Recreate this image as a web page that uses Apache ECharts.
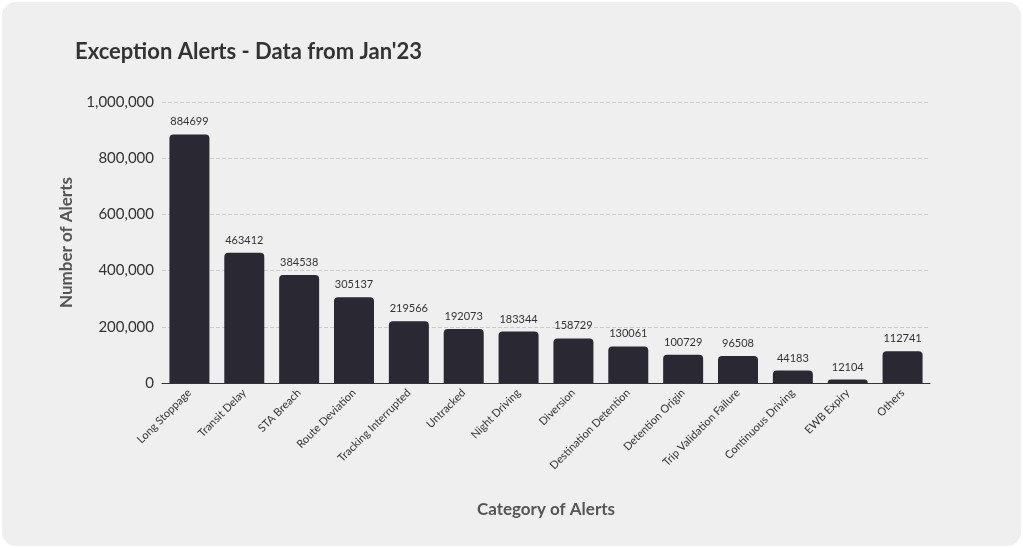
<!DOCTYPE html>
<html style="height: 100%">
<head>
<meta charset="utf-8">
<script src="https://cdn.jsdelivr.net/npm/echarts@6/dist/echarts.min.js"></script>
</head>
<body style="height: 100%; margin: 0; background: #fff;">
<div id="container" style="position:absolute;left:2px;top:2px;right:2px;bottom:2px;background:#efefef;border-radius:14px;"></div>
<script>
var categories = ['Long Stoppage', 'Transit Delay', 'STA Breach', 'Route Deviation', 'Tracking Interrupted', 'Untracked', 'Night Driving', 'Diversion', 'Destination Detention', 'Detention Origin', 'Trip Validation Failure', 'Continuous Driving', 'EWB Expiry', 'Others'];
var alertCounts = [884699, 463412, 384538, 305137, 219566, 192073, 183344, 158729, 130061, 100729, 96508, 44183, 12104, 112741];

var chart = echarts.init(document.getElementById('container'));
chart.setOption({
  textStyle: { fontFamily: 'Lato' },
  title: {
    text: "Exception Alerts - Data from Jan'23",
    left: 68, top: 34,
    textStyle: { fontSize: 22, fontWeight: 'bold', color: '#333', fontFamily: 'Lato' }
  },
  grid: { left: 160, right: 91, top: 100, bottom: 163 },
  xAxis: {
    type: 'category',
    data: categories,
    name: 'Category of Alerts',
    nameLocation: 'middle',
    nameGap: 118,
    nameTextStyle: { fontSize: 17, color: '#555', fontWeight: 'bold' },
    axisTick: { show: false },
    axisLine: { lineStyle: { color: '#333' } },
    axisLabel: { rotate: 45, fontSize: 11, color: '#333', interval: 0 }
  },
  yAxis: {
    type: 'value',
    min: 0, max: 1000000, interval: 200000,
    name: 'Number of Alerts',
    nameLocation: 'middle',
    nameGap: 82,
    nameTextStyle: { fontSize: 17, color: '#555', fontWeight: 'bold' },
    axisLine: { show: false },
    axisLabel: { fontSize: 15, color: '#333' },
    splitLine: { lineStyle: { type: 'dashed', color: '#ccc' } }
  },
  series: [{
    type: 'bar',
    data: alertCounts,
    barWidth: 40,
    itemStyle: { color: '#2a2833', borderRadius: [4, 4, 0, 0] },
    label: { show: true, position: 'top', fontSize: 11, color: '#333', distance: 7 }
  }]
});
</script>
</body>
</html>
